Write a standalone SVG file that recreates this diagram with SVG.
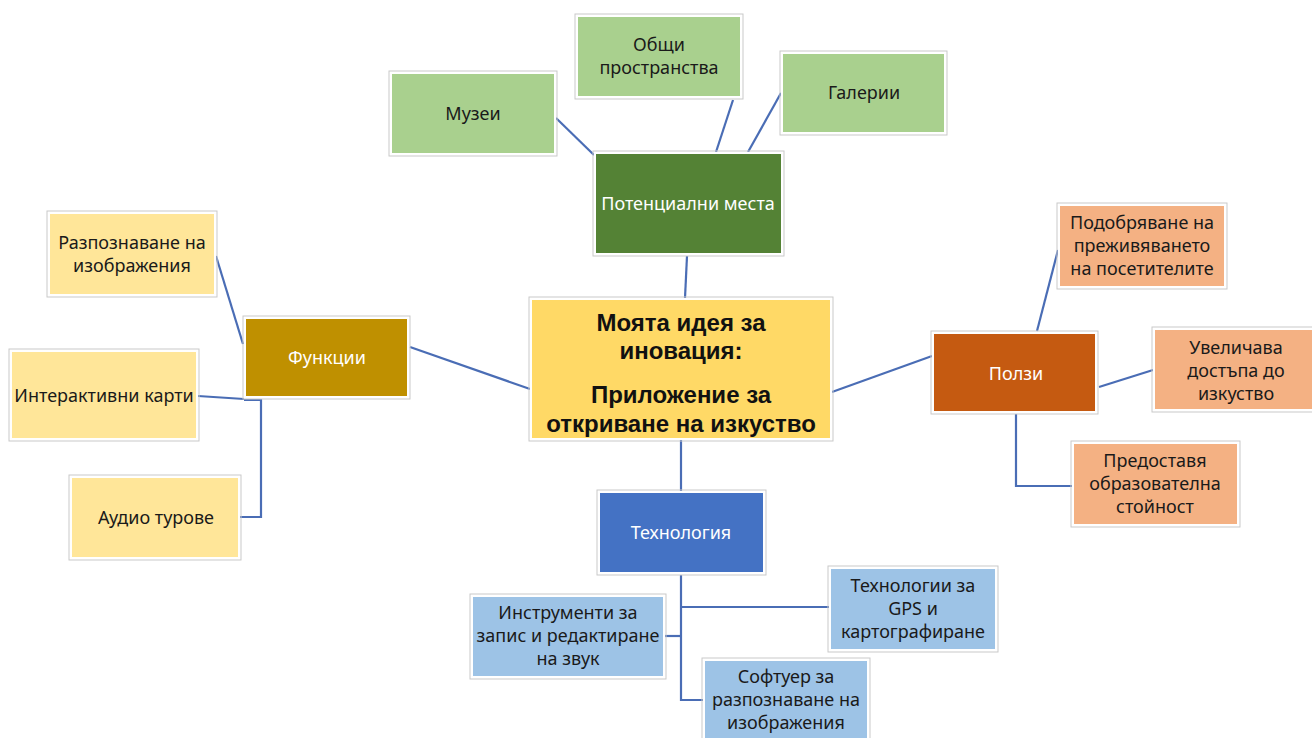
<svg xmlns="http://www.w3.org/2000/svg" width="1312" height="738" viewBox="0 0 1312 738">
<style>
.frame{fill:none;stroke:#c9c9c9;stroke-width:1}
.box{stroke:#ffffff;stroke-width:2}
.t{font-family:"Noto Sans","Liberation Sans",sans-serif;font-size:18px;fill:#1a1a1a;text-anchor:middle}
.w{fill:#ffffff}
.big{font-family:"Liberation Sans",Arial,sans-serif;font-size:24px;font-weight:bold;fill:#111;text-anchor:middle}
.c{fill:none;stroke:#4a6db5;stroke-width:2.2}
.g1{fill:#A9D08E}.g2{fill:#548235}.y1{fill:#FFE699}.y2{fill:#BF9000}.o1{fill:#F4B183}.o2{fill:#C55A11}.b1{fill:#9DC3E6}.b2{fill:#4472C4}.cen{fill:#FFD966}
</style>
<rect width="1312" height="738" fill="#ffffff"/>
<g id="connectors">
<line class="c" x1="685" y1="298" x2="687" y2="256"/>
<line class="c" x1="594" y1="155" x2="556" y2="118"/>
<line class="c" x1="716" y1="152" x2="733" y2="100"/>
<line class="c" x1="748" y1="152" x2="781" y2="93"/>
<line class="c" x1="530" y1="389" x2="410" y2="347"/>
<line class="c" x1="243" y1="344" x2="216" y2="256"/>
<polyline class="c" points="198,396 244,399"/>
<polyline class="c" points="244,400 261,400 261,517 240,517"/>
<line class="c" x1="832" y1="392" x2="932" y2="356"/>
<line class="c" x1="1037" y1="331" x2="1058" y2="250"/>
<line class="c" x1="1099" y1="387" x2="1153" y2="370"/>
<polyline class="c" points="1016,414 1016,486 1072,486"/>
<line class="c" x1="681" y1="440" x2="681" y2="491"/>
<polyline class="c" points="681,575 681,700 703,700"/>
<line class="c" x1="681" y1="607" x2="829" y2="607"/>
<line class="c" x1="681" y1="636" x2="665" y2="636"/>
</g>
<g id="n-center">
<rect class="frame" x="529" y="297" width="304" height="144"/>
<rect class="box cen" x="531" y="299" width="300" height="140"/>
<text class="big" x="681" y="331">Моята идея за<tspan x="681" dy="28">иновация:</tspan></text>
<text class="big" x="681" y="403">Приложение за<tspan x="681" dy="29">откриване на изкуство</tspan></text>
</g>
<g id="n-places">
<rect class="frame" x="593" y="151" width="191" height="105"/>
<rect class="box g2" x="595" y="153" width="187" height="101"/>
<text class="t w" x="688" y="210">Потенциални места</text>
</g>
<g id="n-museums">
<rect class="frame" x="389" y="71" width="168" height="85"/>
<rect class="box g1" x="391" y="73" width="164" height="81"/>
<text class="t" x="473" y="120">Музеи</text>
</g>
<g id="n-public">
<rect class="frame" x="575" y="14" width="168" height="85"/>
<rect class="box g1" x="577" y="16" width="164" height="81"/>
<text class="t" x="659" y="51">Общи<tspan x="659" dy="23">пространства</tspan></text>
</g>
<g id="n-galleries">
<rect class="frame" x="780" y="51" width="167" height="84"/>
<rect class="box g1" x="782" y="53" width="163" height="80"/>
<text class="t" x="864" y="99">Галерии</text>
</g>
<g id="n-functions">
<rect class="frame" x="243" y="316" width="167" height="83"/>
<rect class="box y2" x="245" y="318" width="163" height="79"/>
<text class="t w" x="327" y="364">Функции</text>
</g>
<g id="n-recognition">
<rect class="frame" x="47" y="211" width="170" height="86"/>
<rect class="box y1" x="49" y="213" width="166" height="82"/>
<text class="t" x="132" y="249">Разпознаване на<tspan x="132" dy="23">изображения</tspan></text>
</g>
<g id="n-maps">
<rect class="frame" x="9" y="349" width="190" height="92"/>
<rect class="box y1" x="11" y="351" width="186" height="88"/>
<text class="t" x="104" y="402">Интерактивни карти</text>
</g>
<g id="n-audio">
<rect class="frame" x="69" y="475" width="172" height="85"/>
<rect class="box y1" x="71" y="477" width="168" height="81"/>
<text class="t" x="156" y="524">Аудио турове</text>
</g>
<g id="n-benefits">
<rect class="frame" x="931" y="331" width="167" height="83"/>
<rect class="box o2" x="933" y="333" width="163" height="79"/>
<text class="t w" x="1016" y="380">Ползи</text>
</g>
<g id="n-improve">
<rect class="frame" x="1057" y="203" width="170" height="86"/>
<rect class="box o1" x="1059" y="205" width="166" height="82"/>
<text class="t" x="1142" y="229">Подобряване на<tspan x="1142" dy="23">преживяването</tspan><tspan x="1142" dy="23">на посетителите</tspan></text>
</g>
<g id="n-access">
<rect class="frame" x="1152" y="327" width="162" height="85"/>
<rect class="box o1" x="1154" y="329" width="160" height="81"/>
<text class="t" x="1236" y="354">Увеличава<tspan x="1236" dy="23">достъпа до</tspan><tspan x="1236" dy="23">изкуство</tspan></text>
</g>
<g id="n-education">
<rect class="frame" x="1071" y="441" width="169" height="86"/>
<rect class="box o1" x="1073" y="443" width="165" height="82"/>
<text class="t" x="1155" y="467">Предоставя<tspan x="1155" dy="23">образователна</tspan><tspan x="1155" dy="23">стойност</tspan></text>
</g>
<g id="n-tech">
<rect class="frame" x="597" y="490" width="169" height="85"/>
<rect class="box b2" x="599" y="492" width="165" height="81"/>
<text class="t w" x="681" y="539">Технология</text>
</g>
<g id="n-gps">
<rect class="frame" x="828" y="566" width="170" height="86"/>
<rect class="box b1" x="830" y="568" width="166" height="82"/>
<text class="t" x="913" y="592">Технологии за<tspan x="913" dy="23">GPS и</tspan><tspan x="913" dy="23">картографиране</tspan></text>
</g>
<g id="n-audiotools">
<rect class="frame" x="470" y="594" width="196" height="85"/>
<rect class="box b1" x="472" y="596" width="192" height="81"/>
<text class="t" x="568" y="619">Инструменти за<tspan x="568" dy="23">запис и редактиране</tspan><tspan x="568" dy="23">на звук</tspan></text>
</g>
<g id="n-software">
<rect class="frame" x="702" y="658" width="168" height="86"/>
<rect class="box b1" x="704" y="660" width="164" height="82"/>
<text class="t" x="786" y="683">Софтуер за<tspan x="786" dy="23">разпознаване на</tspan><tspan x="786" dy="23">изображения</tspan></text>
</g>
</svg>
